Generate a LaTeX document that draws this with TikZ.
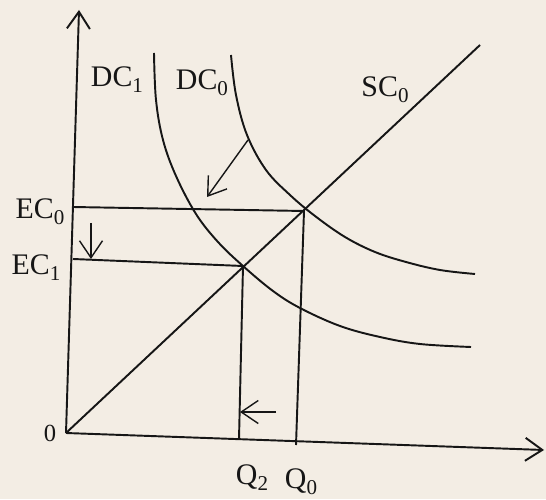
\documentclass[tikz,border=0pt]{standalone}
\usepackage{fontspec}
\setmainfont{Liberation Serif}
\usetikzlibrary{arrows.meta}
\definecolor{paper}{HTML}{F3EDE4}
\definecolor{ink}{HTML}{161616}
\newcommand{\lowsub}[1]{\raisebox{-0.45ex}{\fontsize{12}{12}\selectfont #1}}
\tikzset{
  axisline/.style  = {draw=ink, line width=1.1pt, -{Straight Barb[length=3.4mm,width=4.6mm]}},
  curveline/.style = {draw=ink, line width=1.1pt},
  guide/.style     = {draw=ink, line width=1.1pt},
  shiftarrow/.style= {draw=ink, line width=0.8pt, -{Straight Barb[length=3.4mm,width=4.6mm]}},
  lbl/.style       = {inner sep=0pt, text=ink, font=\fontsize{17}{20}\selectfont},
}

\begin{document}
\begin{tikzpicture}[x=0.02cm, y=-0.02cm]
  \fill[paper] (0,0) rectangle (546,499);
  \useasboundingbox (0,0) rectangle (546,499);

  % key points
  \coordinate (O)    at (66,433);
  \coordinate (ytop) at (79,10);
  \coordinate (xend) at (544,450);
  \coordinate (E0)   at (304,211);
  \coordinate (E1)   at (243,266);
  \coordinate (ec0y) at (73,207);
  \coordinate (ec1y) at (73,259);
  \coordinate (q0x)  at (296,445);
  \coordinate (q2x)  at (239,439);
  \coordinate (sctop) at (480,45);

  % axes
  \draw[axisline] (O) -- (ytop);
  \draw[axisline] (O) -- (xend);

  % supply curve
  \draw[curveline] (O) -- (sctop);

  % demand curves
  \draw[curveline] plot[smooth, tension=0.6] coordinates {
    (154,53) (156,100) (163,140) (176,176) (196,214) (218,242) (243,266)
    (273,291) (300,308) (340,326) (380,337) (420,344) (471,347)};
  \draw[curveline] plot[smooth, tension=0.6] coordinates {
    (231,55) (236,95) (247,135) (266,170) (290,195) (315,216) (345,237)
    (375,252) (406,262) (440,270) (475,274)};

  % equilibrium guides
  \draw[guide] (ec0y) -- (E0) -- (q0x);
  \draw[guide] (ec1y) -- (E1) -- (q2x);

  % shift arrows
  \coordinate (sh1a) at (248,140);
  \coordinate (sh1b) at (207,197);
  \coordinate (sh2a) at (91,223);
  \coordinate (sh2b) at (91,259);
  \coordinate (sh3a) at (276,412);
  \coordinate (sh3b) at (240,412);
  \draw[shiftarrow] (sh1a) -- (sh1b);
  \draw[shiftarrow] (sh2a) -- (sh2b);
  \draw[shiftarrow] (sh3a) -- (sh3b);

  % labels
  \node[lbl] (dc1) at (117,80)  {DC\lowsub{1}};
  \node[lbl] (dc0) at (202,83)  {DC\lowsub{0}};
  \node[lbl] (sc0) at (385,90)  {SC\lowsub{0}};
  \node[lbl] (ec0) at (40,212)  {EC\lowsub{0}};
  \node[lbl] (ec1) at (36,268)  {EC\lowsub{1}};
  \node[lbl, font=\fontsize{14}{16}\selectfont] (o) at (50,433) {0};
  \node[lbl] (q2) at (252,478) {Q\lowsub{2}};
  \node[lbl] (q0) at (301,482) {Q\lowsub{0}};
\end{tikzpicture}
\end{document}
